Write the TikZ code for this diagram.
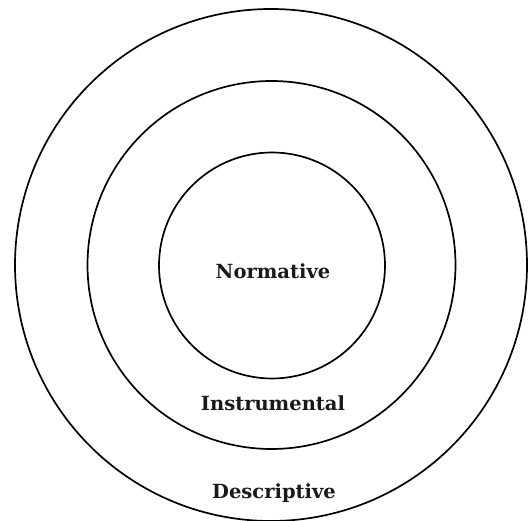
\documentclass[tikz,border=0pt]{standalone}
\usepackage{fontspec}
\setmainfont{DejaVu Serif}
\begin{document}
\begin{tikzpicture}[x=1pt,y=-1pt,
  ring/.style={circle,draw=black,line width=1.7pt,inner sep=0pt},
  label/.style={font=\bfseries\fontsize{19.5}{22}\selectfont,inner sep=0pt,text=black!90}]
\useasboundingbox (0,0) rectangle (528,521);
\node[ring,minimum size=512pt] (outer) at (271,265) {};
\node[ring,minimum size=368pt] (middle) at (271.5,265) {};
\node[ring,minimum size=226pt] (inner) at (272,265.5) {};
\node[label] (norm) at (273,271) {Normative};
\node[label] (instr) at (273,403) {Instrumental};
\node[label] (desc) at (274,493) {Descriptive};
\end{tikzpicture}
\end{document}
